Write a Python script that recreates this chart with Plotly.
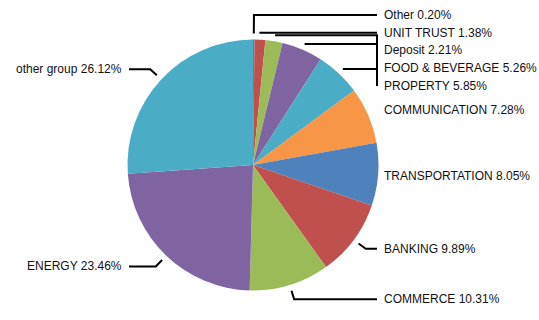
import math
import plotly.graph_objects as go

# ---- data ----
categories = ["Other", "UNIT TRUST", "Deposit", "FOOD & BEVERAGE", "PROPERTY",
              "COMMUNICATION", "TRANSPORTATION", "BANKING", "COMMERCE",
              "ENERGY", "other group"]
shares = [0.20, 1.38, 2.21, 5.26, 5.85, 7.28, 8.05, 9.89, 10.31, 23.46, 26.12]
palette = ["#4F81BD", "#C0504D", "#9BBB59", "#8064A2", "#4BACC6", "#F79646"]

# ---- layout constants (pixels) ----
W, H = 539, 320
CX, CY, R = 253.0, 165.0, 125.5
LABEL_DIST = 15          # natural label radius offset
ANCHOR_OFF = 6           # connector start beyond the pie edge
LABEL_H = 17.75          # label box height used to avoid overlap
TOP_BOUND, BOTTOM_BOUND = 6, 324
FONT = "Liberation Sans, Arial, sans-serif"

colors = [palette[i % len(palette)] for i in range(len(shares))]
total = sum(shares)


def px(x):
    return x / W


def py(y):
    return 1 - y / H


# mid angles (clockwise from 12 o'clock)
mids = []
acc = 0.0
for v in shares:
    mids.append((acc + v / 2) / total * 2 * math.pi)
    acc += v


def distribute(targets, size, lo, hi):
    """Highcharts-like box distribution; returns label centres."""
    boxes = [{"targets": [t], "size": size, "idx": [i]}
             for i, t in sorted(enumerate(targets), key=lambda p: p[1])]
    overlapping = True
    while overlapping:
        for b in boxes:
            tgt = (min(b["targets"]) + max(b["targets"])) / 2
            b["pos"] = min(max(tgt - b["size"] / 2, lo), hi - b["size"])
        overlapping = False
        i = len(boxes) - 1
        while i > 0:
            a, b = boxes[i - 1], boxes[i]
            if a["pos"] + a["size"] > b["pos"]:
                a["size"] += b["size"]
                a["targets"] += b["targets"]
                a["idx"] += b["idx"]
                boxes.pop(i)
                overlapping = True
            i -= 1
    out = {}
    for b in boxes:
        for k, idx in enumerate(b["idx"]):
            out[idx] = b["pos"] + size * (k + 0.5)
    return out


right = [i for i, a in enumerate(mids) if a < math.pi]
left = [i for i, a in enumerate(mids) if a >= math.pi]
natural = {i: CY - (R + LABEL_DIST) * math.cos(mids[i]) for i in range(len(shares))}
label_y = {}
for side in (right, left):
    res = distribute([natural[i] for i in side], LABEL_H, TOP_BOUND, BOTTOM_BOUND)
    for k, i in enumerate(side):
        label_y[i] = res[k]

fig = go.Figure(go.Pie(
    labels=categories, values=shares, sort=False, direction="clockwise", rotation=0,
    marker=dict(colors=colors, line=dict(width=0)),
    textinfo="none", hoverinfo="label+percent",
    domain=dict(x=[px(CX - R), px(CX + R)], y=[py(CY + R), py(CY - R)]),
))

shapes, annotations = [], []
for i, name in enumerate(categories):
    th = mids[i]
    dx, dy = math.sin(th), -math.cos(th)
    is_right = th < math.pi
    ax, ay = CX + (R + ANCHOR_OFF) * dx, CY + (R + ANCHOR_OFF) * dy
    x_end = CX + (R - 1.5) if is_right else CX - (R - 1.5)
    ly = label_y[i]
    if abs(ax - CX) < abs(x_end - CX) - 10:
        t = (ly - ay) / dy if abs(dy) > 1e-9 else -1
        if t >= 0:
            bx, by = ax + t * dx, ly
            bx = min(bx, x_end) if is_right else max(bx, x_end)
        else:
            bx, by = x_end, ay
        path = f"M {px(ax)} {py(ay)} L {px(bx)} {py(by)} L {px(x_end)} {py(ly)}"
        shapes.append(dict(type="path", xref="paper", yref="paper", path=path,
                           line=dict(color="#000000", width=2)))
    annotations.append(dict(
        x=px(x_end + (5 if is_right else -5)), y=py(ly), xref="paper", yref="paper",
        text=f"{name} {shares[i]:.2f}%", showarrow=False,
        xanchor="left" if is_right else "right", yanchor="middle",
        font=dict(family=FONT, size=12, color="#111111"),
    ))

fig.update_layout(
    width=W, height=H, margin=dict(l=0, r=0, t=0, b=0),
    paper_bgcolor="#FFFFFF", plot_bgcolor="#FFFFFF", showlegend=False,
    shapes=shapes, annotations=annotations,
)
fig.write_html("out.html")
